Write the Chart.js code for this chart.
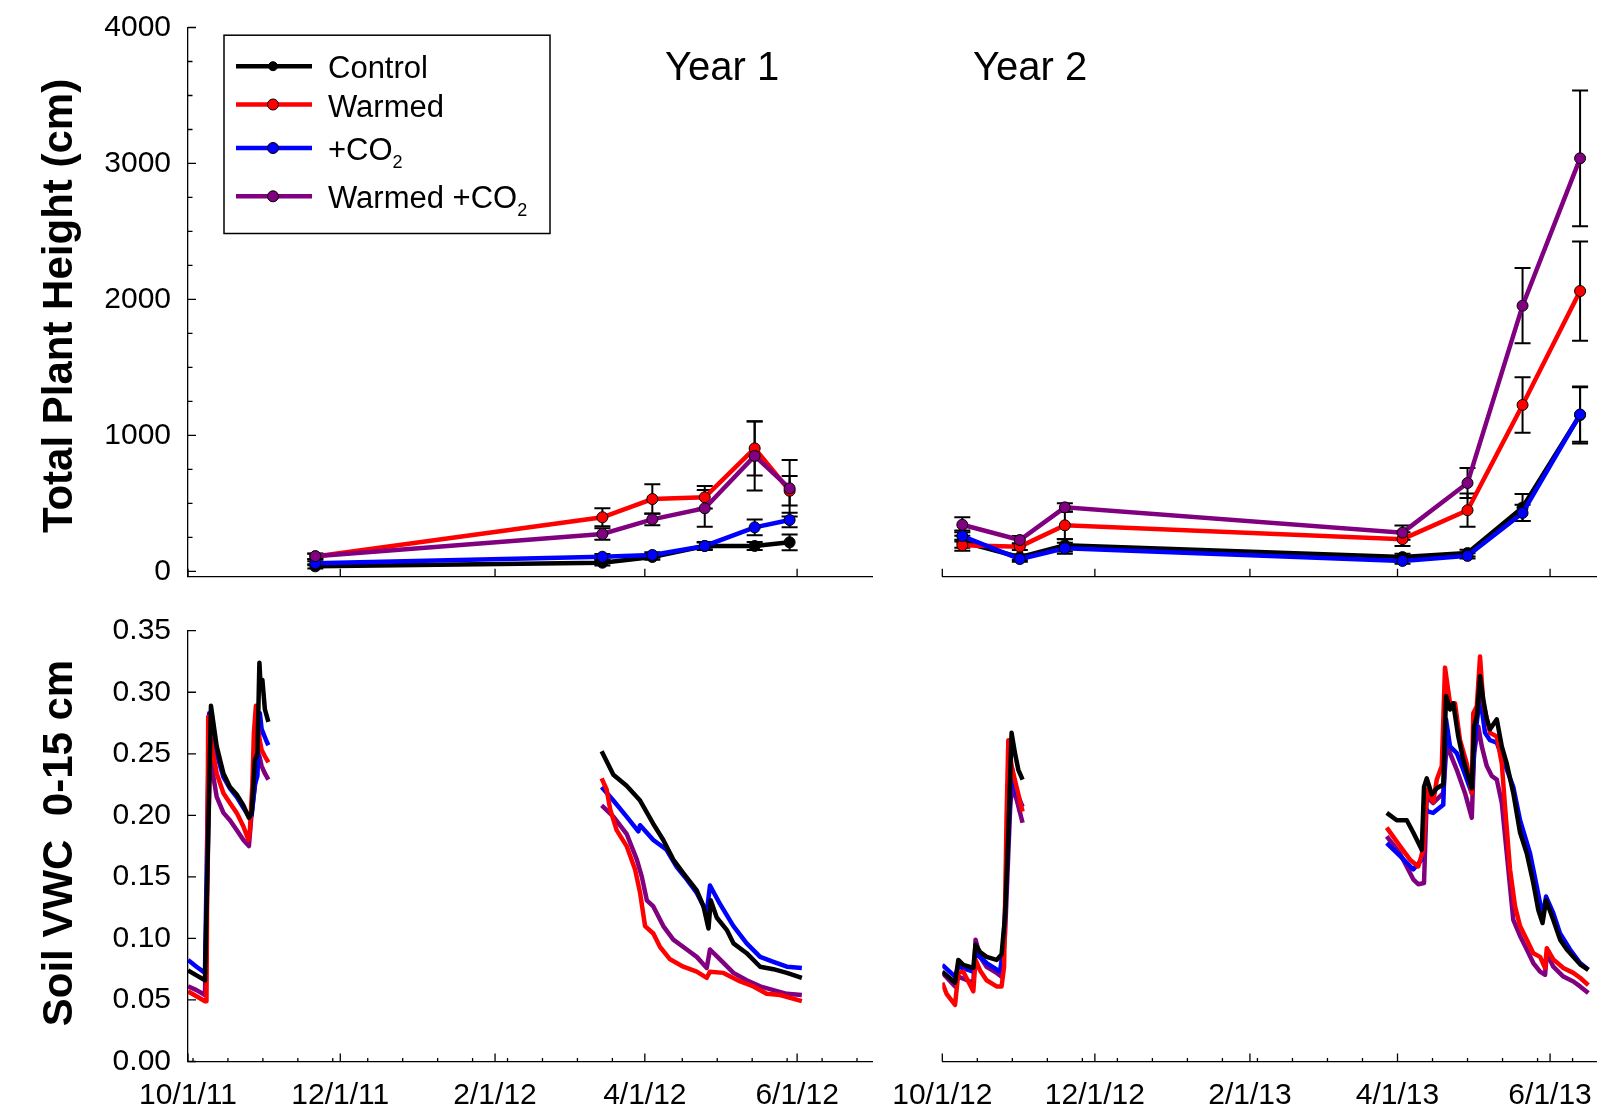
<!DOCTYPE html>
<html>
<head>
<meta charset="utf-8">
<title>Total plant height and soil VWC</title>
<script src="https://cdn.jsdelivr.net/npm/chart.js@4.4.1/dist/chart.umd.min.js"></script>
<style>
  html, body { margin: 0; padding: 0; background: #fff; overflow: hidden; width: 1597px; height: 1106px; }
  canvas { position: absolute; left: 0; top: 0; }
</style>
</head>
<body>
<canvas id="heightY1" width="1597" height="1106"></canvas>
<canvas id="heightY2" width="1700" height="1106"></canvas>
<canvas id="vwcY1" width="1597" height="1106"></canvas>
<canvas id="vwcY2" width="1700" height="1106"></canvas>
<script>
const seriesNames = ['Control', 'Warmed', '+CO2', 'Warmed +CO2'];
const seriesColors = ['#000000', '#ff0000', '#0000ff', '#800080'];

// x values are days after 10/1 of each season
const year1TickDays = [0, 61, 123, 183, 244];
const year1TickLabels = ['10/1/11', '12/1/11', '2/1/12', '4/1/12', '6/1/12'];
const year1MinorDays = [2, 16, 30, 44, 58, 72, 86, 100, 114, 128, 142, 156, 170, 198, 212, 226, 240, 254, 268];
const year2TickDays = [0, 61, 123, 182, 243];
const year2TickLabels = ['10/1/12', '12/1/12', '2/1/13', '4/1/13', '6/1/13'];
const year2MinorDays = [14, 28, 42, 56, 70, 84, 98, 112, 126, 140, 154, 168, 196, 210, 224, 238, 252, 266];

const heightTicks = [0, 1000, 2000, 3000, 4000];
const heightMinorTicks = [250, 500, 750, 1250, 1500, 1750, 2250, 2500, 2750, 3250, 3500, 3750];
const vwcTicks = [0, 0.05, 0.1, 0.15, 0.2, 0.25, 0.3, 0.35];

// total plant height (cm), year 1
const hDays1 = [51, 166, 186, 207, 227, 241];
const hControl1 = [37, 64, 106, 187, 187, 214];
const hWarmed1 = [110, 398, 532, 545, 905, 593];
const hCO2_1 = [60, 108, 121, 187, 324, 378];
const hWarmedCO2_1 = [112, 275, 383, 464, 849, 611];
const eControl1 = [15, 20, 20, 30, 30, 58];
const eWarmed1 = [20, 66, 108, 83, 200, 108];
const eCO2_1 = [15, 20, 20, 25, 58, 54];
const eWarmedCO2_1 = [20, 43, 43, 135, 254, 208];

// total plant height (cm), year 2
const hDays2 = [8, 31, 49, 184, 210, 232, 255];
const hControl2 = [218, 104, 192, 105, 135, 470, 1150];
const hWarmed2 = [192, 182, 339, 237, 450, 1224, 2062];
const hCO2_2 = [260, 91, 170, 77, 114, 430, 1154];
const hWarmedCO2_2 = [343, 231, 471, 285, 650, 1954, 3038];
const eControl2 = [45, 20, 45, 25, 25, 100, 210];
const eWarmed2 = [40, 25, 100, 50, 122, 204, 365];
const eCO2_2 = [40, 20, 40, 20, 20, 60, 200];
const eWarmedCO2_2 = [55, 30, 30, 52, 111, 277, 499];

// soil VWC 0-15 cm, [day, value]
const vwcControlFall11 = [[0,0.074],[3.4,0.070],[6.8,0.066],[9.2,0.289],[11.5,0.256],[14.2,0.234],[16.8,0.223],[19.5,0.217],[22.2,0.208],[24.4,0.198],[25.5,0.202],[26.8,0.245],[27.8,0.250],[28.6,0.324],[29.1,0.305],[29.8,0.310],[30.8,0.286],[32.2,0.276]];
const vwcWarmedFall11 = [[0,0.057],[3.4,0.053],[6.8,0.049],[7.4,0.049],[8.1,0.280],[9.5,0.257],[11.5,0.234],[14.2,0.218],[16.8,0.210],[19.5,0.202],[22.2,0.191],[24.2,0.180],[24.8,0.188],[25.8,0.226],[26.4,0.267],[27.2,0.289],[28.2,0.267],[29.5,0.253],[30.8,0.248],[32.2,0.243]];
const vwcCO2Fall11 = [[0,0.0825],[3.4,0.077],[6.8,0.072],[8.5,0.283],[11.5,0.250],[14.2,0.231],[16.8,0.222],[19.5,0.215],[22.2,0.206],[24.4,0.199],[25.5,0.200],[26.8,0.225],[27.8,0.232],[28.8,0.283],[29.5,0.270],[31.5,0.260],[32.2,0.257]];
const vwcWarmedCO2Fall11 = [[0,0.061],[3.4,0.058],[6.8,0.054],[8.8,0.250],[10.1,0.232],[11.5,0.215],[14.2,0.202],[16.8,0.196],[19.5,0.188],[22.2,0.180],[24.4,0.175],[25.5,0.202],[26.8,0.224],[27.8,0.250],[28.6,0.248],[29.5,0.240],[30.8,0.234],[32.2,0.229]];

const vwcControlSpring12 = [[165.7,0.252],[170.4,0.233],[175.7,0.224],[181.1,0.212],[186.4,0.193],[190.4,0.180],[194.4,0.164],[198.4,0.153],[203.8,0.139],[206.5,0.126],[208.5,0.108],[209.4,0.131],[211.8,0.117],[215.8,0.107],[218.5,0.096],[223.8,0.088],[229.2,0.077],[234.5,0.075],[239.9,0.072],[245.9,0.068]];
const vwcWarmedSpring12 = [[165.7,0.230],[167.7,0.221],[169.1,0.205],[171.7,0.188],[175.7,0.175],[179.1,0.156],[181.1,0.137],[183.1,0.110],[186.4,0.104],[189.1,0.093],[193.1,0.083],[198.4,0.077],[203.8,0.073],[207.8,0.068],[209.1,0.073],[214.5,0.072],[221.2,0.065],[226.5,0.061],[231.8,0.055],[237.2,0.054],[245.9,0.049]];
const vwcCO2Spring12 = [[165.7,0.223],[170.4,0.212],[175.7,0.199],[180.4,0.187],[181.1,0.192],[186.4,0.180],[191.7,0.172],[195.8,0.158],[199.8,0.148],[203.8,0.137],[207.8,0.121],[209.1,0.143],[213.1,0.128],[218.5,0.110],[223.8,0.096],[229.2,0.085],[234.5,0.081],[239.9,0.077],[245.9,0.076]];
const vwcWarmedCO2Spring12 = [[165.7,0.208],[170.4,0.199],[175.7,0.185],[179.8,0.164],[181.8,0.150],[183.8,0.131],[186.4,0.126],[190.4,0.110],[194.4,0.099],[199.8,0.091],[203.8,0.085],[207.8,0.076],[209.1,0.091],[213.1,0.083],[218.5,0.072],[223.8,0.066],[229.2,0.061],[234.5,0.058],[239.9,0.055],[245.9,0.054]];

const vwcControlFall12 = [[0,0.073],[5.1,0.064],[6.4,0.0825],[8.4,0.0785],[12.4,0.076],[13.3,0.095],[15.1,0.089],[17.7,0.085],[21.7,0.0825],[23.7,0.087],[25.1,0.118],[26.4,0.186],[27.7,0.267],[29.1,0.250],[30.4,0.237],[32.1,0.229]];
const vwcWarmedFall12 = [[0,0.064],[1.7,0.055],[5.1,0.046],[6.4,0.072],[8.4,0.073],[12.4,0.057],[13.3,0.0825],[15.1,0.074],[17.7,0.066],[21.7,0.061],[23.7,0.061],[24.7,0.077],[25.7,0.199],[26.4,0.261],[27.7,0.240],[29.7,0.223],[32.1,0.203]];
const vwcCO2Fall12 = [[0,0.0785],[5.1,0.069],[6.4,0.077],[12.4,0.073],[13.3,0.088],[17.7,0.080],[23.1,0.073],[24.4,0.093],[27.1,0.213],[27.7,0.240],[29.7,0.218],[32.1,0.207]];
const vwcWarmedCO2Fall12 = [[0,0.072],[5.1,0.061],[6.4,0.069],[12.4,0.064],[13.3,0.099],[15.1,0.085],[17.7,0.077],[21.7,0.072],[23.7,0.069],[25.1,0.104],[27.1,0.2045],[27.7,0.223],[29.7,0.213],[32.1,0.194]];

const vwcControlSpring13 = [[177.7,0.202],[181.7,0.196],[185.7,0.196],[188.3,0.186],[191.7,0.172],[192.6,0.223],[193.7,0.230],[195.7,0.217],[197.7,0.222],[200.3,0.225],[201.4,0.297],[203.0,0.286],[204.3,0.291],[206.3,0.264],[208.3,0.245],[211.7,0.222],[212.6,0.272],[213.7,0.280],[215.0,0.313],[216.3,0.294],[217.7,0.278],[219.0,0.270],[221.7,0.278],[223.7,0.256],[225.7,0.242],[228.3,0.218],[231.0,0.186],[233.7,0.169],[236.3,0.145],[238.3,0.123],[240.0,0.1125],[241.4,0.131],[244.3,0.115],[247.0,0.099],[249.7,0.091],[252.3,0.085],[255.0,0.079],[258.3,0.0745]];
const vwcWarmedSpring13 = [[177.7,0.190],[183.0,0.175],[187.0,0.164],[190.3,0.1585],[192.3,0.172],[193.7,0.221],[196.3,0.211],[197.7,0.229],[199.7,0.240],[201.0,0.320],[203.0,0.291],[205.0,0.291],[207.0,0.261],[209.7,0.242],[211.7,0.218],[212.3,0.283],[213.7,0.2885],[215.0,0.329],[216.3,0.291],[219.0,0.267],[221.7,0.264],[223.7,0.242],[225.0,0.207],[227.0,0.156],[229.0,0.126],[231.0,0.110],[233.7,0.099],[236.3,0.088],[239.0,0.085],[241.0,0.076],[241.7,0.092],[244.3,0.083],[248.3,0.076],[252.3,0.072],[255.0,0.068],[258.3,0.062]];
const vwcCO2Spring13 = [[177.7,0.1775],[183.0,0.167],[188.3,0.156],[191.7,0.164],[192.6,0.207],[194.3,0.203],[196.3,0.202],[200.3,0.2085],[201.4,0.278],[203.0,0.256],[205.7,0.2505],[208.3,0.237],[211.7,0.218],[213.0,0.264],[215.0,0.297],[217.0,0.267],[219.0,0.261],[221.7,0.259],[224.3,0.245],[228.3,0.223],[231.0,0.196],[235.0,0.169],[237.7,0.142],[240.0,0.118],[241.4,0.134],[244.3,0.1205],[247.0,0.104],[251.0,0.091],[255.0,0.080],[258.3,0.0745]];
const vwcWarmedCO2Spring13 = [[177.7,0.183],[183.0,0.169],[188.3,0.148],[190.3,0.144],[192.6,0.145],[193.7,0.215],[196.3,0.210],[200.3,0.218],[201.7,0.259],[203.0,0.2505],[205.7,0.237],[209.0,0.218],[211.7,0.198],[212.6,0.2505],[214.3,0.272],[215.7,0.256],[217.7,0.240],[219.7,0.232],[221.7,0.229],[223.7,0.210],[225.7,0.169],[228.3,0.115],[231.0,0.102],[233.7,0.091],[236.3,0.080],[239.0,0.073],[241.0,0.0705],[241.7,0.088],[244.3,0.077],[248.3,0.069],[252.3,0.065],[255.0,0.061],[258.3,0.0556]];

Chart.defaults.font.family = "'Liberation Sans', Arial, sans-serif";
Chart.defaults.font.size = 30;
Chart.defaults.color = '#000';

const FONT = "'Liberation Sans', Arial, sans-serif";

// tick marks pointing into the plot, as in the original figure
function insideTicks(t) {
  return {
    id: 'insideTicks',
    afterDraw(chart) {
      const {ctx, chartArea: a, scales: {x, y}} = chart;
      ctx.save();
      ctx.strokeStyle = '#000';
      ctx.lineWidth = 1.3;
      ctx.beginPath();
      (t.xMajor || []).forEach(v => { const p = x.getPixelForValue(v); ctx.moveTo(p, a.bottom); ctx.lineTo(p, a.bottom - 8); });
      (t.xMinor || []).forEach(v => { const p = x.getPixelForValue(v); ctx.moveTo(p, a.bottom); ctx.lineTo(p, a.bottom - 3.5); });
      (t.yMajor || []).forEach(v => { const p = y.getPixelForValue(v); ctx.moveTo(a.left, p); ctx.lineTo(a.left + 8, p); });
      (t.yMinor || []).forEach(v => { const p = y.getPixelForValue(v); ctx.moveTo(a.left, p); ctx.lineTo(a.left + 4.5, p); });
      ctx.stroke();
      ctx.restore();
    }
  };
}

const errorBars = {
  id: 'errorBars',
  beforeDatasetsDraw(chart) {
    const {ctx, scales: {x, y}} = chart;
    ctx.save();
    ctx.strokeStyle = '#000';
    ctx.lineWidth = 2;
    chart.data.datasets.forEach(ds => {
      if (!ds.errors) return;
      ds.data.forEach((pt, i) => {
        const px = x.getPixelForValue(pt.x);
        const top = y.getPixelForValue(pt.y + ds.errors[i]);
        const bot = y.getPixelForValue(pt.y - ds.errors[i]);
        ctx.beginPath();
        ctx.moveTo(px, top); ctx.lineTo(px, bot);
        ctx.moveTo(px - 8, top); ctx.lineTo(px + 8, top);
        ctx.moveTo(px - 8, bot); ctx.lineTo(px + 8, bot);
        ctx.stroke();
      });
    });
    ctx.restore();
  }
};

function pageText(draw) {
  return { id: 'pageText', afterDraw(chart) { const ctx = chart.ctx; ctx.save(); draw(ctx); ctx.restore(); } };
}

function rotatedTitle(ctx, text, x, y) {
  ctx.translate(x, y);
  ctx.rotate(-Math.PI / 2);
  ctx.font = 'bold 42px ' + FONT;
  ctx.fillStyle = '#000';
  ctx.textAlign = 'center';
  ctx.textBaseline = 'alphabetic';
  ctx.fillText(text, 0, 0);
  ctx.setTransform(1, 0, 0, 1, 0, 0);
}

// writes a trailing "2" of CO2 as a subscript
function legendText(ctx, text, x, y) {
  ctx.fillStyle = '#000';
  ctx.textAlign = 'left';
  ctx.textBaseline = 'alphabetic';
  ctx.font = '31px ' + FONT;
  if (text.endsWith('CO2')) {
    const main = text.slice(0, -1);
    ctx.fillText(main, x, y);
    const w = ctx.measureText(main).width;
    ctx.font = '18px ' + FONT;
    ctx.fillText('2', x + w, y + 7.5);
  } else {
    ctx.fillText(text, x, y);
  }
}

const legendRowsY = [66.2, 104.5, 148, 196.3];

const topDecor = pageText(ctx => {
  ctx.strokeStyle = '#000';
  ctx.lineWidth = 1.5;
  ctx.strokeRect(224, 35.2, 326, 198.3);
  seriesNames.forEach((name, i) => {
    const y = legendRowsY[i];
    ctx.strokeStyle = seriesColors[i];
    ctx.lineWidth = 4.5;
    ctx.beginPath(); ctx.moveTo(236, y); ctx.lineTo(312, y); ctx.stroke();
    ctx.beginPath(); ctx.arc(273, y, i === 0 ? 4.5 : 5.5, 0, 2 * Math.PI);
    ctx.fillStyle = seriesColors[i]; ctx.fill();
    ctx.lineWidth = 1; ctx.strokeStyle = '#000'; ctx.stroke();
    legendText(ctx, name, 328, y + 12);
  });
  ctx.font = '40px ' + FONT;
  ctx.fillStyle = '#000';
  ctx.textAlign = 'left';
  ctx.textBaseline = 'alphabetic';
  ctx.fillText('Year 1', 665, 80);
  ctx.fillText('Year 2', 973, 80);
  rotatedTitle(ctx, 'Total Plant Height (cm)', 71.5, 306);
});

const bottomDecor = pageText(ctx => {
  rotatedTitle(ctx, 'Soil VWC  0-15 cm', 71.5, 843);
});

function heightSets(days, values, errors) {
  return values.map((vals, i) => ({
    label: seriesNames[i],
    data: days.map((d, j) => ({x: d, y: vals[j]})),
    errors: errors[i],
    borderColor: seriesColors[i],
    backgroundColor: seriesColors[i],
    pointBackgroundColor: seriesColors[i],
    pointBorderColor: '#000',
    pointBorderWidth: 1,
    pointRadius: 5.5,
    borderWidth: 4.5,
    order: 4 - i
  }));
}

function vwcSets(fall, spring) {
  return fall.map((f, i) => ({
    label: seriesNames[i],
    data: f.concat([[100, null]], spring[i]),
    borderColor: seriesColors[i],
    borderWidth: 4.5,
    borderJoinStyle: 'round',
    pointRadius: 0,
    order: i + 1
  }));
}

function xAxis(max, tickDays, tickLabels, showLabels, height) {
  return {
    type: 'linear', min: 0, max: max,
    grid: { display: false, drawTicks: true, tickLength: 16 },
    border: { display: true, color: '#000', width: 1.3 },
    afterBuildTicks: s => { s.ticks = tickDays.map(v => ({value: v})); },
    afterFit: s => { s.height = height; },
    ticks: { display: showLabels, padding: 0, maxRotation: 0, autoSkip: false,
             callback: (v, i) => tickLabels[i] }
  };
}

function yAxis(min, max, tickVals, fmt, visible) {
  return {
    type: 'linear', display: visible, min: min, max: max,
    grid: { display: false, drawTicks: true, tickLength: 17 },
    border: { display: true, color: '#000', width: 1.3 },
    afterBuildTicks: s => { s.ticks = tickVals.map(v => ({value: v})); },
    afterFit: s => { if (visible) s.width = 120; },
    ticks: { padding: 0, callback: v => fmt(v) }
  };
}

function panel(id, datasets, padding, x, y, plugins) {
  return new Chart(document.getElementById(id), {
    type: 'line',
    data: { datasets: datasets },
    options: {
      responsive: false,
      animation: false,
      events: [],
      layout: { padding: padding },
      plugins: { legend: { display: false }, tooltip: { enabled: false } },
      scales: { x: x, y: y }
    },
    plugins: plugins
  });
}

const fmtHeight = v => String(v);
const fmtVwc = v => v.toFixed(2);

panel('heightY1',
  heightSets(hDays1, [hControl1, hWarmed1, hCO2_1, hWarmedCO2_1], [eControl1, eWarmed1, eCO2_1, eWarmedCO2_1]),
  { left: 68, right: 725, top: 27.5, bottom: 529.3 },
  xAxis(274, year1TickDays, year1TickLabels, false, 0),
  yAxis(-39, 4000, heightTicks, fmtHeight, true),
  [errorBars, insideTicks({ xMajor: year1TickDays, yMajor: heightTicks, yMinor: heightMinorTicks }), topDecor]);

panel('heightY2',
  heightSets(hDays2, [hControl2, hWarmed2, hCO2_2, hWarmedCO2_2], [eControl2, eWarmed2, eCO2_2, eWarmedCO2_2]),
  { left: 942.3, right: 74.9, top: 27.5, bottom: 529.3 },
  xAxis(273, year2TickDays, year2TickLabels, false, 0),
  yAxis(-39, 4000, heightTicks, fmtHeight, false),
  [errorBars, insideTicks({ xMajor: year2TickDays })]);

panel('vwcY1',
  vwcSets([vwcControlFall11, vwcWarmedFall11, vwcCO2Fall11, vwcWarmedCO2Fall11],
          [vwcControlSpring12, vwcWarmedSpring12, vwcCO2Spring12, vwcWarmedCO2Spring12]),
  { left: 68, right: 725, top: 630.7, bottom: 0 },
  xAxis(274, year1TickDays, year1TickLabels, true, 44.5),
  yAxis(0, 0.35, vwcTicks, fmtVwc, true),
  [insideTicks({ xMajor: year1TickDays, xMinor: year1MinorDays, yMajor: vwcTicks }), bottomDecor]);

panel('vwcY2',
  vwcSets([vwcControlFall12, vwcWarmedFall12, vwcCO2Fall12, vwcWarmedCO2Fall12],
          [vwcControlSpring13, vwcWarmedSpring13, vwcCO2Spring13, vwcWarmedCO2Spring13]),
  { left: 942.3, right: 74.9, top: 630.7, bottom: 0 },
  xAxis(273, year2TickDays, year2TickLabels, true, 44.5),
  yAxis(0, 0.35, vwcTicks, fmtVwc, false),
  [insideTicks({ xMajor: year2TickDays, xMinor: year2MinorDays })]);
</script>
</body>
</html>
